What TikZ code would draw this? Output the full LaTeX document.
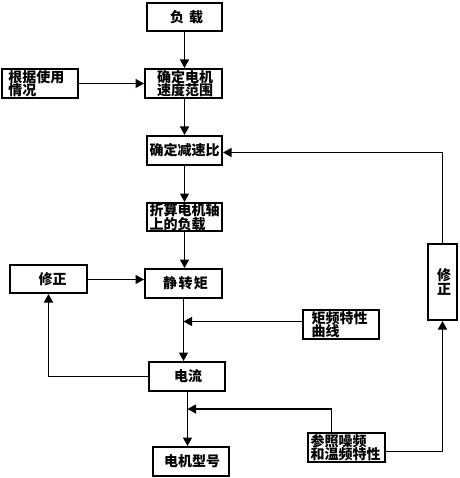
\documentclass[tikz,border=0pt]{standalone}
\usepackage{fontspec}
\newfontfamily\cjk{Noto Sans CJK SC}
\usetikzlibrary{arrows.meta}
\begin{document}
\begin{tikzpicture}[x=1pt,y=-1pt,
  box/.style={draw, line width=2pt, minimum width=76pt, minimum height=29pt,
    inner sep=0pt, font=\cjk\bfseries\fontsize{14}{13.5}\selectfont, align=center},
  conn/.style={line width=1.3pt},
  arr/.style={conn, -{Triangle[length=8.5pt,width=9pt]}}]
\useasboundingbox (0,0) rectangle (459,478);
\fill[white] (0,0) rectangle (459,478);
\node[box, minimum width=75pt, minimum height=28pt] (fz) at (184.5,17) {\hspace*{4pt}负\hspace{5pt}载};
\node[box, text width=63.4pt, align=left] (gj) at (40,83.5) {根据使用\\情况};
\node[box, minimum width=77pt] (qd) at (183.5,83.5) {\hspace*{3pt}确定电机\\\hspace*{3pt}速度范围};
\node[box, minimum width=75pt] (js) at (184.5,150.5) {确定减速比};
\node[box, minimum width=75pt, minimum height=28pt, text width=70pt, align=left] (zs) at (184.5,217) {折算电机轴\\上的负载};
\node[box, minimum width=77pt, minimum height=28pt] (xz1) at (48.5,279) {\hspace*{8pt}修正};
\node[box, minimum width=77pt] (jz) at (183.5,283.5) {\hspace*{4pt}静\hspace{1.5pt}转\hspace{1.5pt}矩};
\node[box, text width=58.6pt, align=left] (jp) at (341,324.5) {矩频特性\\曲线};
\node[box] (dl) at (187,376.5) {\hspace*{2pt}电流};
\node[box, minimum width=77pt, text width=71.6pt, align=left] (cz) at (346.5,447.5) {参照噪频\\和温频特性};
\node[box] (xh) at (191,461.5) {\hspace*{2pt}电机型号};
\node[box, minimum width=29pt, minimum height=76pt] (xz2) at (442.5,282) {\hspace*{3pt}修\\\hspace*{3pt}正};

\draw[arr] (fz.south) -- (fz.south |- qd.north);
\draw[arr] (gj.east) -- (qd.west);
\draw[arr] (js.north |- qd.south) -- (js.north);
\draw[arr] (js.south) -- (zs.north);
\draw[arr] (zs.south) -- (zs.south |- jz.north);
\coordinate (xzout) at ([yshift=-0.5pt]xz1.east);
\draw[arr] (xzout) -- (xzout -| jz.west);
\draw[arr] (jz.south) -- (jz.south |- dl.north);
\coordinate (jpin) at ([yshift=3pt]jp.west);
\draw[arr] (jpin) -- (jpin -| jz.south);
\draw[arr] (dl.west) -| (xz1.south);
\coordinate (dlout) at ([xshift=0.5pt]dl.south);
\draw[arr] (dlout) -- (dlout |- xh.north);
\coordinate (cztop) at ([xshift=-15pt]cz.north);
\coordinate (czturn) at ([yshift=23pt]cztop);
\draw[arr] (cztop) -- (czturn) -- (czturn -| dlout);
\coordinate (czout) at ([yshift=-4pt]cz.east);
\draw[arr] (czout) -| (xz2.south);
\coordinate (jsin) at ([yshift=-2pt]js.east);
\draw[arr] (xz2.north) |- (jsin);
\end{tikzpicture}
\end{document}
